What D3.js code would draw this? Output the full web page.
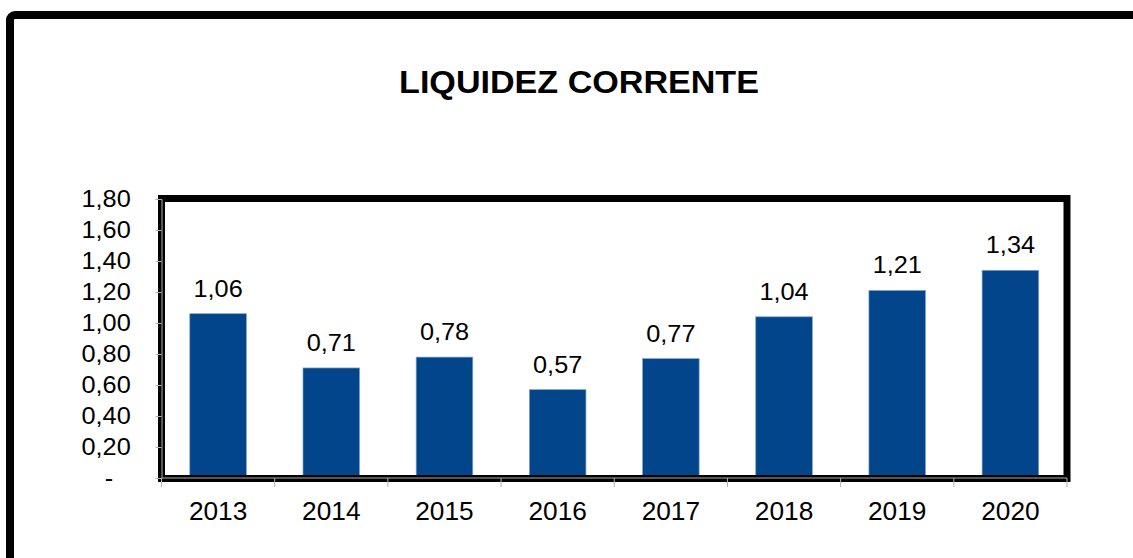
<!DOCTYPE html>
<html>
<head>
  <meta charset="utf-8">
  <script src="https://cdn.jsdelivr.net/npm/d3@7"></script>
  <style>
    body { margin: 0; background: white; }
    svg { display: block; font-family: "Liberation Sans", Arial, sans-serif; }
  </style>
</head>
<body>
  <script>
    const title = 'LIQUIDEZ CORRENTE'
    const years = ['2013', '2014', '2015', '2016', '2017', '2018', '2019', '2020']
    const values = [1.06, 0.71, 0.78, 0.57, 0.77, 1.04, 1.21, 1.34]
    const yTicks = [0, 0.2, 0.4, 0.6, 0.8, 1.0, 1.2, 1.4, 1.6, 1.8]

    const W = 1133, H = 558
    const box = { left: 161.5, right: 1067, top: 198.5, bottom: 478.5 }
    const stretch = 1.1
    const fmt = v => v === 0 ? '-' : d3.format('.2f')(v).replace('.', ',')

    const svg = d3.select('body').append('svg').attr('width', W).attr('height', H)

    // outer frame, runs off the right and bottom edge
    svg.append('rect')
      .attr('x', 10).attr('y', 15).attr('width', W + 20).attr('height', H + 20)
      .attr('rx', 5)
      .attr('fill', 'white').attr('stroke', 'black').attr('stroke-width', 8)

    svg.append('text')
      .attr('transform', `translate(579,93) scale(${stretch},1)`)
      .attr('text-anchor', 'middle')
      .attr('font-size', 31).attr('font-weight', 'bold')
      .text(title)

    const x = d3.scaleBand().domain(years).range([box.left, box.right]).paddingInner(0.5).paddingOuter(0.25)
    const y = d3.scaleLinear().domain([0, 1.8]).range([478, 199])

    // bars
    svg.append('g').selectAll('rect').data(values).join('rect')
      .attr('x', (d, i) => x(years[i]))
      .attr('y', d => y(d))
      .attr('width', x.bandwidth())
      .attr('height', d => y(0) - y(d))
      .attr('fill', '#02458a')
      .attr('stroke', '#7fa3cc').attr('stroke-width', 0.7)

    // value labels
    svg.append('g').selectAll('text').data(values).join('text')
      .attr('transform', (d, i) => `translate(${x(years[i]) + x.bandwidth() / 2},${y(d) - 17}) scale(${stretch},1)`)
      .attr('text-anchor', 'middle')
      .attr('font-size', 23)
      .text(fmt)

    // plot frame
    svg.append('rect')
      .attr('x', box.left).attr('y', box.top)
      .attr('width', box.right - box.left).attr('height', box.bottom - box.top)
      .attr('fill', 'none').attr('stroke', 'black').attr('stroke-width', 7)

    // y axis
    const yAxis = svg.append('g')
      .attr('transform', `translate(${box.left},0)`)
      .call(d3.axisLeft(y).tickValues(yTicks).tickSize(6).tickFormat(fmt).tickPadding(24))
    yAxis.select('.domain').attr('stroke', '#b0b0b0')
    yAxis.selectAll('.tick line').attr('stroke', '#b0b0b0')
    yAxis.selectAll('.tick text')
      .attr('font-size', 23).attr('fill', 'black')
      .attr('font-family', '"Liberation Sans", Arial, sans-serif')
      .attr('transform', `scale(${stretch},1)`)
      .attr('x', d => d === 0 ? -44 : -28)

    // x axis ticks at category boundaries
    const bounds = years.map(yr => x(yr) - x.step() * 0.25).concat([box.right])
    svg.append('g').selectAll('line').data(bounds).join('line')
      .attr('x1', d => d).attr('x2', d => d)
      .attr('y1', 478).attr('y2', 487)
      .attr('stroke', '#b0b0b0')
    svg.append('line')
      .attr('x1', box.left).attr('x2', box.right).attr('y1', 478).attr('y2', 478)
      .attr('stroke', '#b0b0b0')

    svg.append('g').selectAll('text').data(years).join('text')
      .attr('transform', d => `translate(${x(d) + x.bandwidth() / 2},520) scale(1.03,1)`)
      .attr('text-anchor', 'middle')
      .attr('font-size', 25.5)
      .text(d => d)
  </script>
</body>
</html>
